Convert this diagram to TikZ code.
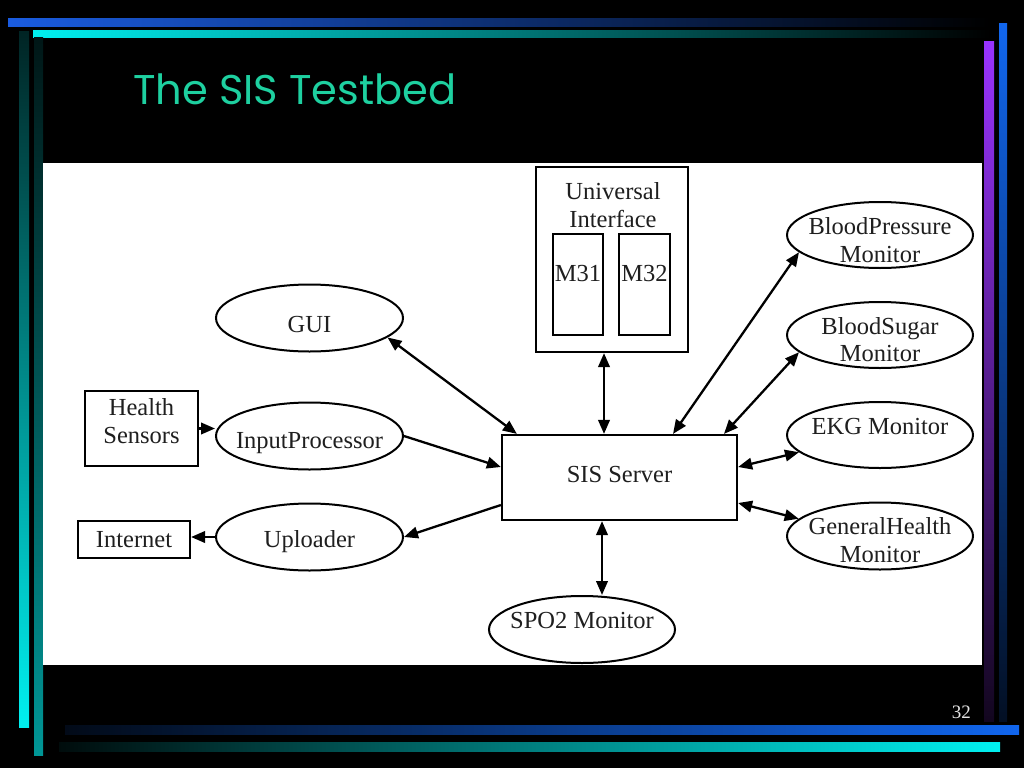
\documentclass[tikz,border=0pt]{standalone}
\usepackage{fontspec}
\setmainfont{Liberation Serif}
\newfontfamily\titlefont{Poppins}
\usetikzlibrary{shapes.geometric,arrows.meta}
\definecolor{titlecol}{RGB}{30,208,160}
\definecolor{barblue}{RGB}{26,92,224}
\definecolor{barcyan}{RGB}{0,240,240}
\definecolor{barteal}{RGB}{0,150,150}
\definecolor{barpurple}{RGB}{153,51,255}
\definecolor{barblue2}{RGB}{17,102,238}
\begin{document}
\begin{tikzpicture}[x=1pt,y=-1pt,
  >={Triangle[length=14pt,width=11.5pt]},
  ell/.style={ellipse,draw,line width=2pt,minimum width=187pt,minimum height=67pt,inner sep=0pt},
  box/.style={rectangle,draw,line width=2.2pt,inner sep=0pt},
  thinbox/.style={rectangle,draw,line width=1.2pt,inner sep=0pt},
  lbl/.style={font=\fontsize{24.5}{27.5}\selectfont,text=black!88,align=center,inner sep=0pt},
  con/.style={line width=2.3pt}]
\fill[black] (0,0) rectangle (1024,768);
\useasboundingbox (0,0) rectangle (1024,768);
% decorative bars
\shade[left color=barblue,middle color=barblue!70!black,right color=black] (8,19) rectangle (990,27);
\shade[left color=barcyan,middle color=barcyan!60!black,right color=black] (33,31) rectangle (990,38);
\shade[top color=barcyan!15!black,bottom color=barcyan] (19,32) rectangle (29,727);
\shade[top color=barteal!15!black,bottom color=barteal] (34,38) rectangle (43,755);
\shade[top color=barpurple,bottom color=barpurple!12!black] (984,42) rectangle (994,721);
\shade[top color=barblue2,bottom color=barblue2!15!black] (999,24) rectangle (1007,721);
\shade[left color=barblue2!10!black,right color=barblue2] (65,725) rectangle (1019,734);
\shade[left color=barcyan!5!black,right color=barcyan] (59,742) rectangle (1000,751);
% title and page number
\node[anchor=base west,inner sep=0pt,text=titlecol] (title) at (133,104) {\resizebox{323pt}{!}{\titlefont The SIS Testbed}};
\node[anchor=base east,inner sep=0pt,text=black!10,font=\fontsize{19}{19}\selectfont] (pagenum) at (971,718) {32};
% white panel
\fill[white] (43,163) rectangle (982,665);
% nodes
\node[box,minimum width=235pt,minimum height=85pt,label={[lbl,yshift=2.5pt]center:SIS Server}] (sis) at (619.5,477.5) {};
\node[box,minimum width=152pt,minimum height=185pt] (ui) at (612,259.5) {};
\node[lbl] (uiT) at (613,205) {Universal\\Interface};
\node[thinbox,minimum width=50pt,minimum height=101pt,label={[lbl,yshift=10.5pt]center:M31}] (m31) at (578,284.5) {};
\node[thinbox,minimum width=51pt,minimum height=101pt,label={[lbl,yshift=10.5pt]center:M32}] (m32) at (644.5,284.5) {};
\node[ell,label={[lbl,yshift=-7pt]center:GUI}] (gui) at (309.5,318) {};
\node[ell,label={[lbl,yshift=-7pt]center:InputProcessor}] (ip) at (309.5,436) {};
\node[ell,label={[lbl,yshift=-5pt]center:Uploader}] (up) at (309.5,537) {};
\node[box,minimum width=113pt,minimum height=75pt,label={[lbl,yshift=7.5pt]center:Health\\Sensors}] (hs) at (141.5,428.5) {};
\node[box,minimum width=112pt,minimum height=37pt,label={[lbl,yshift=0pt]center:Internet}] (inet) at (134,539.5) {};
\node[ell,minimum width=186pt,label={[lbl,yshift=9pt]center:SPO2 Monitor}] (spo) at (582,629.5) {};
\node[ell,minimum width=186pt,minimum height=66pt,label={[lbl,yshift=-5pt]center:BloodPressure\\Monitor}] (bp) at (880,235) {};
\node[ell,minimum width=186pt,minimum height=66pt,label={[lbl,yshift=-4.5pt]center:BloodSugar\\Monitor}] (bs) at (880,335) {};
\node[ell,minimum width=186pt,minimum height=66pt,label={[lbl,yshift=8pt]center:EKG Monitor}] (ekg) at (880,435) {};
\node[ell,minimum width=186pt,minimum height=67pt,label={[lbl,yshift=-4pt]center:GeneralHealth\\Monitor}] (gh) at (880,536) {};
% connectors
\draw[con,<->] (gui.-14) -- ([xshift=16pt]sis.north west);
\draw[con,->] (ip.east) -- ([yshift=10.5pt]sis.west);
\draw[con,->] ([yshift=-27.5pt]sis.west) -- (up.east);
\draw[con,->] (up.west) -- (up.west -| inet.east);
\draw[con,->] (hs.east) -- (hs.east -| ip.west);
\draw[con,<->] ([xshift=-8pt]ui.south) -- ([xshift=-8pt]ui.south |- sis.north);
\draw[con,<->] ([xshift=-17.5pt]sis.south) coordinate (spoTop) -- (spoTop |- spo.north);
\draw[con,<->] ([xshift=53.5pt]sis.north) -- (bp.192);
\draw[con,<->] ([xshift=104.5pt]sis.north) -- (bs.192);
\draw[con,<->] ([yshift=10.5pt]sis.east) -- (ekg.192);
\draw[con,<->] ([yshift=-25.5pt]sis.east) -- (gh.168);
\end{tikzpicture}
\end{document}
